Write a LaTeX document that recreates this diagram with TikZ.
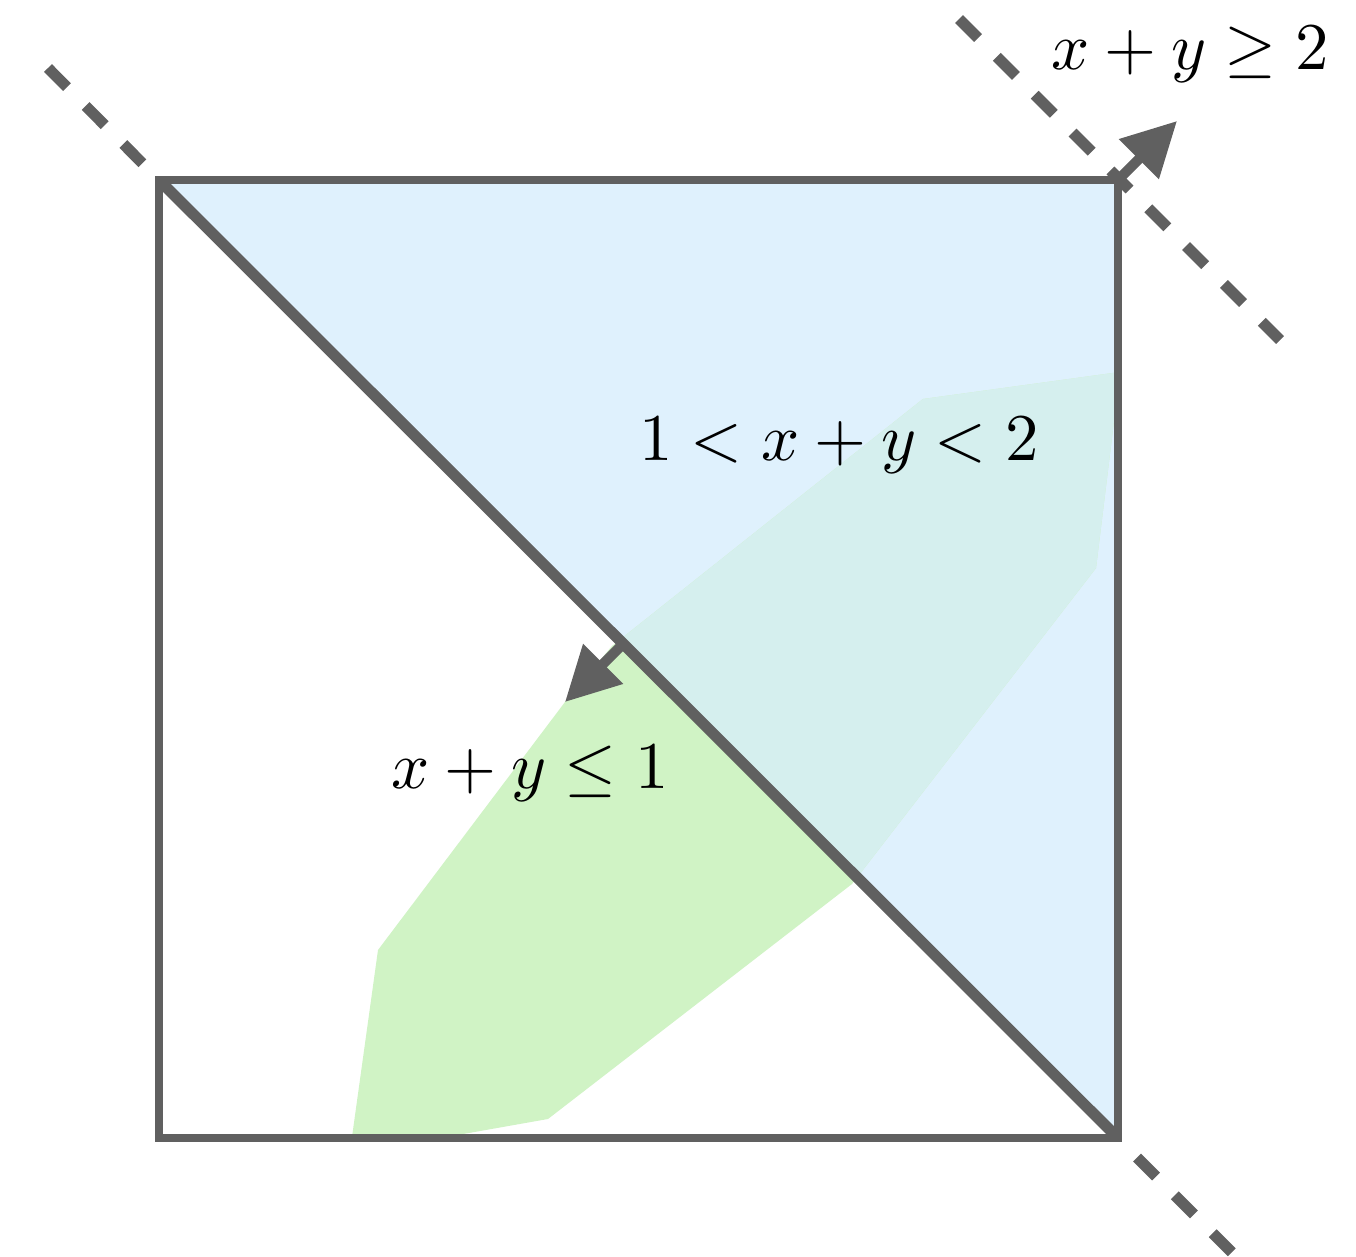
\documentclass[tikz,border=0pt]{standalone}
\usetikzlibrary{arrows.meta}
\definecolor{bluefill}{RGB}{223,241,253}
\definecolor{greenfill}{RGB}{208,243,197}
\definecolor{tealfill}{RGB}{213,239,238}
\definecolor{linegray}{RGB}{96,96,96}
\begin{document}
\begin{tikzpicture}[x=0.01cm,y=-0.01cm,
  frame/.style={draw=linegray,line width=0.08cm},
  divider/.style={draw=linegray,line width=0.11cm},
  guide/.style={draw=linegray,line width=0.11cm,dash pattern=on 0.27cm off 0.265cm},
  normalarrow/.style={draw=linegray,line width=0.1cm,-{Triangle[length=0.54cm,width=0.54cm]}},
  lbl/.style={anchor=base,inner sep=0pt,scale=1.9}]
\useasboundingbox (0,0) rectangle (1356,1257);
\coordinate (TL) at (159,180);
\coordinate (TR) at (1118,180);
\coordinate (BR) at (1118,1138);
\coordinate (BL) at (159,1138);
% region x+y >= 1 (blue triangle)
\fill[bluefill] (TL) -- (TR) -- (BR) -- cycle;
% feasible polygon (green)
\fill[greenfill] (352,1137) -- (378,950) -- (565,702) -- (612,646) -- (923,399) -- (1120,372) -- (1096,568) -- (852,884) -- (548,1119) -- (452,1136) -- cycle;
% overlap (teal)
\begin{scope}
  \clip (TL) -- (TR) -- (BR) -- cycle;
  \fill[tealfill] (352,1137) -- (378,950) -- (565,702) -- (612,646) -- (923,399) -- (1120,372) -- (1096,568) -- (852,884) -- (548,1119) -- (452,1136) -- cycle;
\end{scope}
% frame and diagonal
\draw[frame] (TL) rectangle (BR);
\draw[divider] (TL) -- (BR);
% dashed extensions
\coordinate (g1) at (48,68);
\coordinate (g2) at (1137,1157.5);
\coordinate (g3) at (1232,1252.5);
\coordinate (g4) at (959,19);
\coordinate (g5) at (1280,340);
\draw[guide] (g1) -- (TL);
\draw[guide] (g2) -- (g3);
\draw[guide] (g4) -- (g5);
% normal arrows
\coordinate (mid) at (623,644);
\coordinate (tipA) at (565,702);
\coordinate (tipB) at (1177,121);
\draw[normalarrow] (mid) -- (tipA);
\draw[normalarrow] (TR) -- (tipB);
% labels
\node[lbl] (ge2) at (1190,69) {$x+y\geq 2$};
\node[lbl] (mid2) at (839,460) {$1<x+y<2$};
\node[lbl] (le1) at (530,788) {$x+y\leq 1$};
\end{tikzpicture}
\end{document}
